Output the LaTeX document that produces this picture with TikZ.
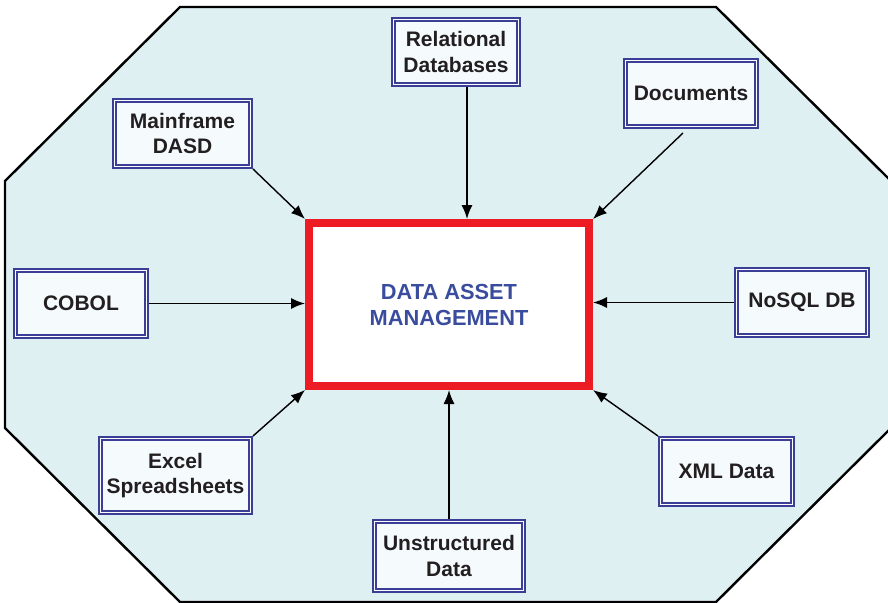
\documentclass[tikz,border=0pt]{standalone}
\usepackage{fontspec}
\setmainfont{Liberation Sans}
\usetikzlibrary{arrows.meta,calc}
\definecolor{octfill}{HTML}{DFF0F3}
\definecolor{boxfill}{HTML}{F5FBFD}
\definecolor{boxblue}{HTML}{3A3E96}
\definecolor{titleblue}{HTML}{3A4C9E}
\definecolor{mainred}{HTML}{ED1C24}
\definecolor{labelgray}{HTML}{231F20}
\tikzset{
  srcbox/.style={draw=boxblue, line width=1.7pt, double=white, double distance=1.2pt,
    fill=boxfill, inner sep=0pt, outer sep=2.3pt, align=center, text=labelgray,
    font=\fontsize{21}{25.5}\selectfont\bfseries},
  mainbox/.style={draw=mainred, line width=8pt, fill=white, inner sep=0pt, outer sep=4pt,
    align=center, text=titleblue, font=\fontsize{21.8}{26}\selectfont\bfseries,
    minimum width=280pt, minimum height=163pt},
  feed/.style={draw=black, line width=1.4pt, -{Latex[length=14pt,width=11pt]}},
  octagon/.style={draw=black, line width=2.4pt, fill=octfill, line join=miter}
}
\begin{document}
\begin{tikzpicture}[x=1pt,y=-1pt]
\useasboundingbox (0,0) rectangle (888,602);
\filldraw[octagon] (180,7) -- (716,7) -- (891,181) -- (891,428) -- (716,602) -- (180,602) -- (5,428) -- (5,181) -- cycle;

\node[mainbox] (main) at (449,304.5) {DATA ASSET\\MANAGEMENT};

\node[srcbox, minimum width=136.4pt, minimum height=66.4pt] (dasd) at (182.5,133.5) {Mainframe\\DASD};
\node[srcbox, minimum width=125.4pt, minimum height=65.4pt] (rel) at (456,52) {Relational\\Databases};
\node[srcbox, minimum width=131.4pt, minimum height=66.4pt] (doc) at (691,93.5) {Documents};
\node[srcbox, minimum width=131.4pt, minimum height=66.4pt] (cobol) at (81,303.5) {COBOL};
\node[srcbox, minimum width=131.4pt, minimum height=66.4pt] (nosql) at (802,302.5) {NoSQL DB};
\node[srcbox, minimum width=150.4pt, minimum height=74.4pt] (excel) at (175.5,475.5) {Excel\\Spreadsheets};
\node[srcbox, minimum width=132.4pt, minimum height=66.4pt] (xml) at (726.5,471.5) {XML Data};
\node[srcbox, minimum width=149.4pt, minimum height=69.4pt] (unstr) at (449,556) {Unstructured\\Data};

\draw[feed] (dasd.south east) -- (main.north west);
\draw[feed] ([xshift=11pt]rel.south) coordinate (r1) -- (r1 |- main.north);
\draw[feed] ([xshift=-8pt,yshift=-4pt]doc.south) -- (main.north east);
\draw[feed] (cobol.east) -- (cobol.east -| main.west);
\draw[feed] (nosql.west) -- (nosql.west -| main.east);
\draw[feed] (excel.north east) -- (main.south west);
\draw[feed] (xml.north west) -- (main.south east);
\draw[feed] (unstr.north) -- (main.south);
\end{tikzpicture}
\end{document}
